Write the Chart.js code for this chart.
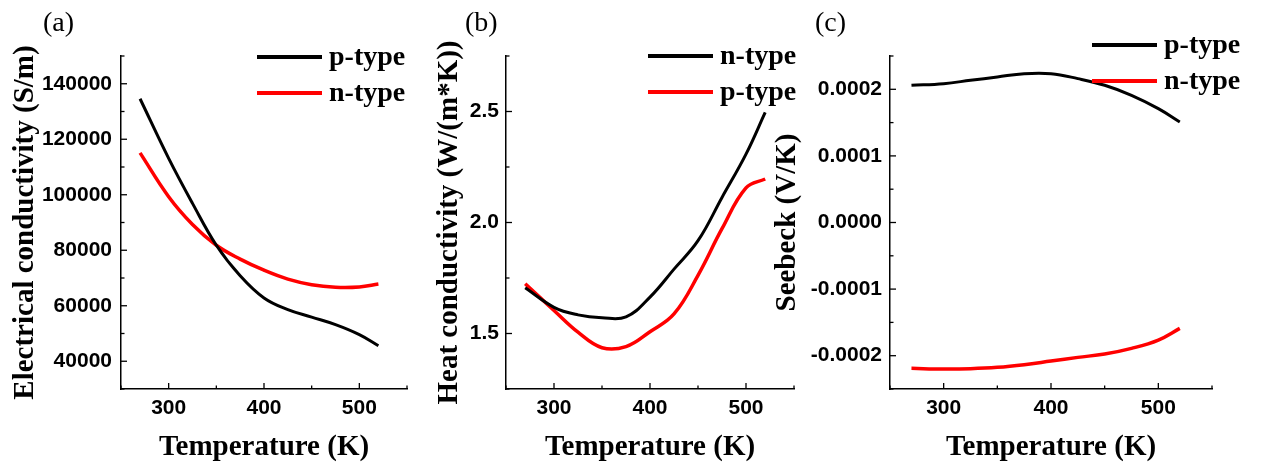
<!DOCTYPE html>
<html>
<head>
<meta charset="utf-8">
<script src="https://cdn.jsdelivr.net/npm/chart.js@4.4.0/dist/chart.umd.min.js"></script>
<style>
  body { margin: 0; background: #fff; width: 1262px; height: 466px; overflow: hidden; position: relative; }
  canvas { position: absolute; top: 0; }
</style>
</head>
<body>
<canvas id="chartA" width="420" height="466" style="left:0"></canvas>
<canvas id="chartB" width="400" height="466" style="left:420px"></canvas>
<canvas id="chartC" width="502" height="466" style="left:760px"></canvas>
<script>
// Temperature (K) sample points shared by all curves
const temperature = [270, 300, 325, 350, 375, 400, 425, 450, 475, 500, 520];

// (a) electrical conductivity, S/m
const sigmaP = [134600, 113100, 96900, 81800, 70800, 62800, 58600, 55900, 53200, 49600, 45600];
const sigmaN = [115100, 99300, 89300, 81800, 76800, 72800, 69600, 67600, 66700, 66800, 67800];

// (b) heat conductivity, W/(m*K)
const kappaN = [1.706, 1.618, 1.584, 1.571, 1.575, 1.664, 1.790, 1.918, 2.113, 2.308, 2.496];
const kappaP = [1.724, 1.604, 1.506, 1.436, 1.441, 1.508, 1.588, 1.762, 1.972, 2.156, 2.196];

// (c) Seebeck coefficient, V/K
const seebeckP = [2.06e-4, 2.085e-4, 2.135e-4, 2.185e-4, 2.235e-4, 2.235e-4, 2.16e-4, 2.06e-4, 1.91e-4, 1.71e-4, 1.51e-4];
const seebeckN = [-2.19e-4, -2.2e-4, -2.195e-4, -2.175e-4, -2.135e-4, -2.08e-4, -2.025e-4, -1.975e-4, -1.89e-4, -1.765e-4, -1.59e-4];

// tick labels
const tempTicks = [300, 400, 500];
const sigmaTicks = [40000, 60000, 80000, 100000, 120000, 140000];
const kappaTicks = [1.5, 2.0, 2.5];
const seebeckTicks = [-0.0002, -0.0001, 0, 0.0001, 0.0002];

const SANS = "'Liberation Sans', Arial, sans-serif";
const SERIF = "'Liberation Serif', 'Times New Roman', serif";

// small inward ticks (major + minor), legend and panel letter
const decor = {
  id: 'decor',
  afterDraw(chart, args, opts) {
    const ctx = chart.ctx;
    ctx.save();
    ctx.strokeStyle = '#000';
    ctx.lineWidth = 1.3;
    const drawTicks = (scale, majors, horizontal) => {
      const step = (majors[1] - majors[0]) / 2;
      const n = Math.round((scale.max - scale.min) / step);
      for (let i = 0; i <= n; i++) {
        const v = scale.min + i * step;
        const major = majors.some(t => Math.abs(t - v) < step * 1e-3);
        const len = major ? 6 : 3.5;
        const p = scale.getPixelForValue(v);
        ctx.beginPath();
        if (horizontal) {
          ctx.moveTo(p, scale.top);
          ctx.lineTo(p, scale.top - len);
        } else {
          ctx.moveTo(scale.right, p);
          ctx.lineTo(scale.right + len, p);
        }
        ctx.stroke();
      }
    };
    drawTicks(chart.scales.x, opts.xTicks, true);
    drawTicks(chart.scales.y, opts.yTicks, false);

    // legend
    ctx.lineWidth = 4;
    ctx.font = 'bold 28px ' + SERIF;
    ctx.textBaseline = 'middle';
    ctx.fillStyle = '#000';
    chart.data.datasets.forEach((ds, i) => {
      const y = opts.legendY + i * 36;
      ctx.strokeStyle = ds.borderColor;
      ctx.beginPath();
      ctx.moveTo(opts.legendX, y);
      ctx.lineTo(opts.legendX + 65, y);
      ctx.stroke();
      ctx.fillText(ds.label, opts.legendX + 72, y + 1);
    });

    // panel letter
    ctx.font = '28px ' + SERIF;
    ctx.fillText(opts.letter, opts.letterX, 24);
    ctx.restore();
  }
};

const makeChart = (id, cfg) => {
  new Chart(document.getElementById(id), {
    type: 'line',
    data: {
      labels: temperature,
      datasets: cfg.series.map(s => ({
        label: s.label,
        data: s.data.map((v, i) => ({ x: temperature[i], y: v })),
        borderColor: s.color,
        borderWidth: s.color === '#000000' ? 3 : 3.5,
        pointRadius: 0,
        tension: 0.4,
        fill: false
      }))
    },
    plugins: [decor],
    options: {
      responsive: false,
      animation: false,
      layout: { padding: { left: 0, right: cfg.padRight, top: 56, bottom: 0 } },
      plugins: {
        legend: { display: false },
        tooltip: { enabled: false },
        decor: cfg.decor
      },
      scales: {
        x: {
          type: 'linear',
          min: 250,
          max: 550,
          afterBuildTicks: (axis) => { axis.ticks = tempTicks.map(v => ({ value: v })); },
          afterFit: (axis) => { axis.height = 77; },
          grid: { display: false, drawTicks: false },
          border: { display: true, color: '#000', width: 1.5 },
          ticks: {
            color: '#000',
            padding: 7,
            maxRotation: 0,
            font: { family: SANS, size: 21, weight: 'bold' }
          },
          title: {
            display: true,
            text: 'Temperature (K)',
            color: '#000',
            padding: { top: 0, bottom: 1 },
            font: { family: SERIF, size: 29, weight: 'bold' }
          }
        },
        y: {
          type: 'linear',
          min: cfg.yMin,
          max: cfg.yMax,
          afterBuildTicks: (axis) => { axis.ticks = cfg.yTicks.map(v => ({ value: v })); },
          afterFit: (axis) => { axis.width = cfg.yWidth; },
          grid: { display: false, drawTicks: false },
          border: { display: true, color: '#000', width: 1.5 },
          ticks: {
            color: '#000',
            padding: cfg.yPad,
            font: { family: SANS, size: 21, weight: 'bold' },
            callback: cfg.yFormat
          },
          title: {
            display: true,
            text: cfg.yTitle,
            color: '#000',
            padding: { top: cfg.yTitlePad, bottom: 0 },
            font: { family: SERIF, size: 29, weight: 'bold' }
          }
        }
      }
    }
  });
};

makeChart('chartA', {
  series: [
    { label: 'p-type', data: sigmaP, color: '#000000' },
    { label: 'n-type', data: sigmaN, color: '#ff0000' }
  ],
  yMin: 30000, yMax: 150000, yTicks: sigmaTicks,
  yFormat: (v) => String(v),
  yTitle: 'Electrical conductivity (S/m)',
  yWidth: 121, yPad: 9, yTitlePad: 7.7, padRight: 13,
  decor: { xTicks: tempTicks, yTicks: sigmaTicks, legendX: 257, legendY: 57, letter: '(a)', letterX: 43 }
});

makeChart('chartB', {
  series: [
    { label: 'n-type', data: kappaN, color: '#000000' },
    { label: 'p-type', data: kappaP, color: '#ff0000' }
  ],
  yMin: 1.25, yMax: 2.75, yTicks: kappaTicks,
  yFormat: (v) => v.toFixed(1),
  yTitle: 'Heat conductivity (W/(m*K))',
  yWidth: 86, yPad: 7, yTitlePad: 12.2, padRight: 26,
  decor: { xTicks: tempTicks, yTicks: kappaTicks, legendX: 228, legendY: 56, letter: '(b)', letterX: 45 }
});

makeChart('chartC', {
  series: [
    { label: 'p-type', data: seebeckP, color: '#000000' },
    { label: 'n-type', data: seebeckN, color: '#ff0000' }
  ],
  yMin: -0.00025, yMax: 0.00025, yTicks: seebeckTicks,
  yFormat: (v) => v.toFixed(4),
  yTitle: 'Seebeck (V/K)',
  yWidth: 130, yPad: 8, yTitlePad: 10.2, padRight: 50,
  decor: { xTicks: tempTicks, yTicks: seebeckTicks, legendX: 332, legendY: 45, letter: '(c)', letterX: 55 }
});
</script>
</body>
</html>
